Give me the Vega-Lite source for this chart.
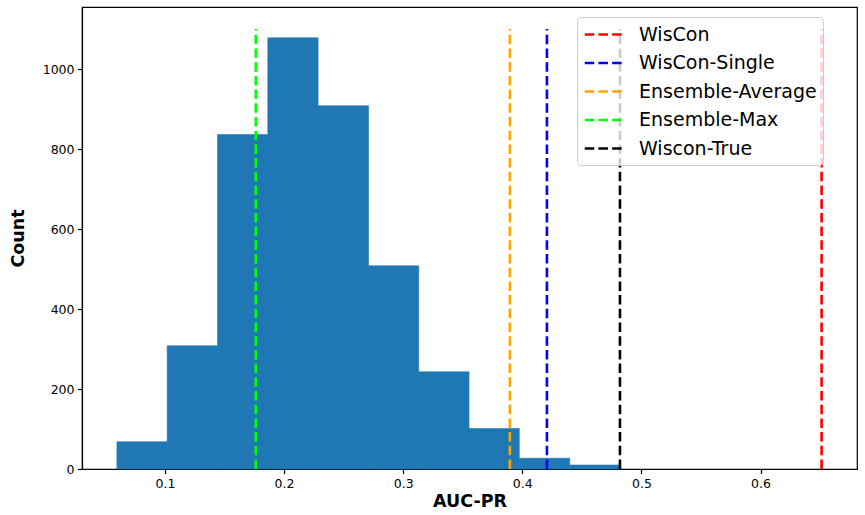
{
  "$schema": "https://vega.github.io/schema/vega-lite/v6.json",
  "background": "white",
  "autosize": {"type": "none"},
  "padding": {"left": 82, "top": 7, "right": 8, "bottom": 46},
  "width": 775,
  "height": 462,
  "datasets": {
    "bins": [
      {"bin_start": 0.0597, "bin_end": 0.1019, "count": 68},
      {"bin_start": 0.1019, "bin_end": 0.1442, "count": 308},
      {"bin_start": 0.1442, "bin_end": 0.1864, "count": 836},
      {"bin_start": 0.1864, "bin_end": 0.2286, "count": 1078},
      {"bin_start": 0.2286, "bin_end": 0.2709, "count": 908},
      {"bin_start": 0.2709, "bin_end": 0.3131, "count": 508},
      {"bin_start": 0.3131, "bin_end": 0.3553, "count": 243},
      {"bin_start": 0.3553, "bin_end": 0.3975, "count": 101},
      {"bin_start": 0.3975, "bin_end": 0.4398, "count": 27},
      {"bin_start": 0.4398, "bin_end": 0.482, "count": 10}
    ],
    "methods": [
      {"method": "WisCon", "auc": 0.6513},
      {"method": "WisCon-Single", "auc": 0.4207},
      {"method": "Ensemble-Average", "auc": 0.3896},
      {"method": "Ensemble-Max", "auc": 0.1763},
      {"method": "Wiscon-True", "auc": 0.482}
    ]
  },
  "layer": [
    {
      "data": {"name": "bins"},
      "mark": {"type": "rect", "color": "#1f77b4", "stroke": "#1f77b4", "strokeWidth": 0.6},
      "encoding": {
        "x": {
          "field": "bin_start",
          "type": "quantitative",
          "scale": {"domain": [0.0304, 0.681], "nice": false, "zero": false},
          "axis": {"values": [0.1, 0.2, 0.3, 0.4, 0.5, 0.6], "format": ".1f"},
          "title": "AUC-PR"
        },
        "x2": {"field": "bin_end"},
        "y": {
          "field": "count",
          "type": "quantitative",
          "scale": {"domain": [0, 1155], "nice": false},
          "axis": {"values": [0, 200, 400, 600, 800, 1000], "format": "d"},
          "title": "Count"
        },
        "y2": {"datum": 0}
      }
    },
    {
      "data": {"name": "methods"},
      "mark": {"type": "rule", "strokeWidth": 2.6, "strokeDash": [9.5, 4.2]},
      "encoding": {
        "x": {"field": "auc", "type": "quantitative"},
        "y": {"datum": 0},
        "y2": {"datum": 1100},
        "color": {
          "field": "method",
          "type": "nominal",
          "scale": {
            "domain": ["WisCon", "WisCon-Single", "Ensemble-Average", "Ensemble-Max", "Wiscon-True"],
            "range": ["#ff0000", "#0000ff", "#ffa500", "#00ff00", "#000000"]
          },
          "legend": {
            "title": null,
            "orient": "none",
            "legendX": 495,
            "legendY": 10,
            "symbolType": "M-1,0H3",
            "symbolSize": 380,
            "symbolStrokeWidth": 2.6,
            "symbolDash": [9.5, 4.2],
            "symbolFillColor": "transparent",
            "labelFontSize": 19,
            "labelOffset": 33,
            "labelLimit": 300,
            "rowPadding": 6.5,
            "padding": 6,
            "fillColor": "rgba(255,255,255,0.8)",
            "strokeColor": "#cccccc",
            "cornerRadius": 4
          }
        }
      }
    }
  ],
  "config": {
    "font": "DejaVu Sans",
    "view": {"stroke": "black", "strokeWidth": 1.2},
    "axis": {
      "grid": false,
      "domainColor": "black",
      "domainWidth": 1.2,
      "tickColor": "black",
      "tickWidth": 1.2,
      "tickSize": 4.5,
      "labelPadding": 3.5,
      "labelFontSize": 12.5,
      "labelColor": "black",
      "titleFontSize": 17.5,
      "titleFontWeight": "bold",
      "titleColor": "black"
    },
    "axisX": {"titlePadding": 3},
    "axisY": {"titlePadding": 15},
    "legend": {"labelColor": "black", "labelFont": "DejaVu Sans"}
  }
}
